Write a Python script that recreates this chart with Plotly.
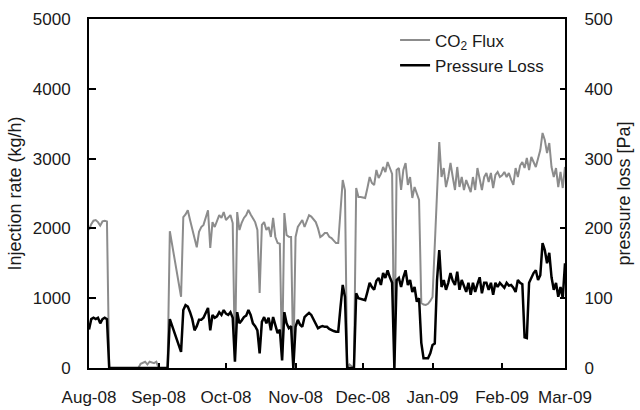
import plotly.graph_objects as go

# ---- data ----
flux_dates = [
    "2008-08-01", "2008-08-02", "2008-08-03", "2008-08-04", "2008-08-05", "2008-08-06",
    "2008-08-07", "2008-08-08", "2008-08-09", "2008-08-10", "2008-08-23", "2008-08-24",
    "2008-08-26", "2008-08-27", "2008-08-28", "2008-08-30", "2008-08-31", "2008-09-01",
    "2008-09-05", "2008-09-06", "2008-09-11", "2008-09-12", "2008-09-13", "2008-09-14",
    "2008-09-15", "2008-09-16", "2008-09-18", "2008-09-19", "2008-09-20", "2008-09-21",
    "2008-09-22", "2008-09-23", "2008-09-24", "2008-09-25", "2008-09-26", "2008-09-27",
    "2008-09-28", "2008-09-29", "2008-09-30", "2008-10-01", "2008-10-02", "2008-10-03",
    "2008-10-04", "2008-10-05", "2008-10-06", "2008-10-07", "2008-10-08", "2008-10-09",
    "2008-10-10", "2008-10-11", "2008-10-12", "2008-10-13", "2008-10-14", "2008-10-15",
    "2008-10-16", "2008-10-17", "2008-10-18", "2008-10-19", "2008-10-20", "2008-10-21",
    "2008-10-22", "2008-10-23", "2008-10-24", "2008-10-25", "2008-10-26", "2008-10-27",
    "2008-10-28", "2008-10-29", "2008-10-30", "2008-10-31", "2008-11-01", "2008-11-02",
    "2008-11-03", "2008-11-04", "2008-11-05", "2008-11-06", "2008-11-07", "2008-11-08",
    "2008-11-09", "2008-11-10", "2008-11-11", "2008-11-12", "2008-11-13", "2008-11-14",
    "2008-11-15", "2008-11-16", "2008-11-17", "2008-11-18", "2008-11-19", "2008-11-20",
    "2008-11-21", "2008-11-22", "2008-11-23", "2008-11-24", "2008-11-25", "2008-11-26",
    "2008-11-27", "2008-11-28", "2008-11-29", "2008-11-30", "2008-12-01", "2008-12-02",
    "2008-12-03", "2008-12-04", "2008-12-05", "2008-12-06", "2008-12-07", "2008-12-08",
    "2008-12-09", "2008-12-10", "2008-12-11", "2008-12-12", "2008-12-13", "2008-12-14",
    "2008-12-15", "2008-12-16", "2008-12-17", "2008-12-18", "2008-12-19", "2008-12-20",
    "2008-12-21", "2008-12-22", "2008-12-23", "2008-12-24", "2008-12-25", "2008-12-26",
    "2008-12-27", "2008-12-28", "2008-12-29", "2008-12-30", "2008-12-31", "2009-01-01",
    "2009-01-04", "2009-01-05", "2009-01-06", "2009-01-07", "2009-01-08", "2009-01-09",
    "2009-01-10", "2009-01-11", "2009-01-12", "2009-01-13", "2009-01-14", "2009-01-15",
    "2009-01-16", "2009-01-17", "2009-01-18", "2009-01-19", "2009-01-20", "2009-01-21",
    "2009-01-22", "2009-01-23", "2009-01-24", "2009-01-25", "2009-01-26", "2009-01-27",
    "2009-01-28", "2009-01-29", "2009-01-30", "2009-01-31", "2009-02-01", "2009-02-02",
    "2009-02-03", "2009-02-04", "2009-02-05", "2009-02-06", "2009-02-07", "2009-02-08",
    "2009-02-09", "2009-02-10", "2009-02-11", "2009-02-12", "2009-02-13", "2009-02-14",
    "2009-02-15", "2009-02-16", "2009-02-17", "2009-02-18", "2009-02-19", "2009-02-20",
    "2009-02-21", "2009-02-22", "2009-02-23", "2009-02-24", "2009-02-25", "2009-02-26",
    "2009-02-27", "2009-02-28", "2009-03-01",
]
flux_values = [
    1980, 2060, 2110, 2120, 2090, 2040,
    2100, 2110, 2100, 0, 0, 60,
    90, 50, 90, 70, 90, 0,
    0, 1960, 1020, 2160, 2200, 2260,
    2120, 1980, 1730, 1950, 2020, 2050,
    2150, 2260, 1720, 2090, 2020, 2120,
    2190, 2150, 2235, 2120, 2150, 2190,
    2077, 110, 2235, 1977, 2080, 2150,
    2190, 2264, 2200, 2150, 2090, 1977,
    1074, 2050, 2090, 1977, 2020, 1877,
    2150, 1877, 1790, 1780, 115, 2220,
    1905, 1880, 1877, 40, 1877, 2020,
    2080, 2120, 2020, 2100, 2190, 2170,
    2120, 2090, 2000, 1877, 1900, 1934,
    1934, 1880, 1862, 1830, 1790, 1790,
    2220, 2693, 2550, 0, 50, 20,
    0, 2580, 2450, 2450, 2440, 2436,
    2579, 2736, 2650, 2622, 2837, 2722,
    2780, 2880, 2808, 2951, 2865, 2780,
    0, 2837, 2865, 2550, 2837, 2937,
    2622, 2736, 2436, 2593, 2500, 2407,
    931, 910, 903, 920, 960, 1017,
    3238, 2736, 2865, 2593, 2736, 2937,
    2736, 2550, 2880, 2593, 2736, 2550,
    2693, 2600, 2521, 2736, 2550, 2865,
    2700, 2550, 2736, 2794, 2665, 2794,
    2579, 2765, 2808, 2736, 2760, 2808,
    2736, 2794, 2700, 2622, 2865, 2736,
    2900, 2951, 2865, 3009, 2837, 3023,
    2951, 2880, 3000, 3123, 3367, 3266,
    3080, 3223, 2880, 2736, 2865, 2593,
    2808, 2579, 2880,
]

loss_dates = [
    "2008-08-01", "2008-08-02", "2008-08-03", "2008-08-04", "2008-08-05", "2008-08-06",
    "2008-08-07", "2008-08-08", "2008-08-09", "2008-08-10", "2008-09-05", "2008-09-06",
    "2008-09-11", "2008-09-12", "2008-09-13", "2008-09-14", "2008-09-15", "2008-09-16",
    "2008-09-17", "2008-09-18", "2008-09-19", "2008-09-20", "2008-09-21", "2008-09-22",
    "2008-09-23", "2008-09-24", "2008-09-25", "2008-09-26", "2008-09-27", "2008-09-28",
    "2008-09-29", "2008-09-30", "2008-10-01", "2008-10-02", "2008-10-03", "2008-10-04",
    "2008-10-05", "2008-10-06", "2008-10-07", "2008-10-08", "2008-10-09", "2008-10-10",
    "2008-10-11", "2008-10-12", "2008-10-13", "2008-10-14", "2008-10-15", "2008-10-16",
    "2008-10-17", "2008-10-18", "2008-10-19", "2008-10-20", "2008-10-21", "2008-10-22",
    "2008-10-23", "2008-10-24", "2008-10-25", "2008-10-26", "2008-10-27", "2008-10-28",
    "2008-10-29", "2008-10-30", "2008-10-31", "2008-11-01", "2008-11-02", "2008-11-03",
    "2008-11-04", "2008-11-05", "2008-11-06", "2008-11-07", "2008-11-08", "2008-11-09",
    "2008-11-10", "2008-11-11", "2008-11-12", "2008-11-13", "2008-11-14", "2008-11-15",
    "2008-11-16", "2008-11-17", "2008-11-18", "2008-11-19", "2008-11-20", "2008-11-21",
    "2008-11-22", "2008-11-23", "2008-11-24", "2008-11-27", "2008-11-28", "2008-11-29",
    "2008-11-30", "2008-12-01", "2008-12-02", "2008-12-03", "2008-12-04", "2008-12-05",
    "2008-12-06", "2008-12-07", "2008-12-08", "2008-12-09", "2008-12-10", "2008-12-11",
    "2008-12-12", "2008-12-13", "2008-12-14", "2008-12-15", "2008-12-16", "2008-12-17",
    "2008-12-18", "2008-12-19", "2008-12-20", "2008-12-21", "2008-12-22", "2008-12-23",
    "2008-12-24", "2008-12-25", "2008-12-26", "2008-12-27", "2008-12-28", "2008-12-29",
    "2008-12-30", "2008-12-31", "2009-01-01", "2009-01-02", "2009-01-03", "2009-01-04",
    "2009-01-05", "2009-01-06", "2009-01-07", "2009-01-08", "2009-01-09", "2009-01-10",
    "2009-01-11", "2009-01-12", "2009-01-13", "2009-01-14", "2009-01-15", "2009-01-16",
    "2009-01-17", "2009-01-18", "2009-01-19", "2009-01-20", "2009-01-21", "2009-01-22",
    "2009-01-23", "2009-01-24", "2009-01-25", "2009-01-26", "2009-01-27", "2009-01-28",
    "2009-01-29", "2009-01-30", "2009-01-31", "2009-02-01", "2009-02-02", "2009-02-03",
    "2009-02-04", "2009-02-05", "2009-02-06", "2009-02-07", "2009-02-08", "2009-02-09",
    "2009-02-10", "2009-02-11", "2009-02-12", "2009-02-13", "2009-02-14", "2009-02-15",
    "2009-02-16", "2009-02-17", "2009-02-18", "2009-02-19", "2009-02-20", "2009-02-21",
    "2009-02-22", "2009-02-23", "2009-02-24", "2009-02-25", "2009-02-26", "2009-02-27",
    "2009-02-28", "2009-03-01",
]
loss_values = [
    55, 70, 72, 70, 72, 64,
    70, 72, 70, 0, 0, 70,
    23, 83, 90, 88, 80, 70,
    54, 60, 69, 69, 72, 80,
    86, 54, 76, 72, 74, 80,
    76, 83, 78, 76, 80, 72,
    9, 80, 64, 68, 73, 75,
    83, 76, 64, 60, 54, 21,
    66, 73, 64, 72, 54, 73,
    60, 50, 55, 11, 80, 64,
    57, 60, 0, 59, 69, 62,
    59, 73, 76, 79, 76, 69,
    64, 57, 59, 60, 59, 59,
    56, 54, 53, 52, 52, 87,
    119, 102, 0, 0, 107, 100,
    99, 98, 97, 109, 122, 116,
    112, 125, 129, 119, 136, 129,
    140, 130, 122, 0, 126, 129,
    116, 130, 140, 119, 126, 109,
    116, 95, 100, 36, 14, 14,
    14, 21, 33, 35, 126, 169,
    116, 126, 112, 122, 136, 125,
    119, 138, 112, 126, 118, 109,
    122, 105, 122, 109, 120, 130,
    107, 122, 122, 112, 122, 105,
    122, 116, 122, 118, 115, 122,
    118, 119, 115, 109, 126, 122,
    120, 44, 43, 122, 130, 136,
    140, 126, 133, 179, 169, 150,
    165, 130, 112, 122, 102, 116,
    100, 150,
]

series_names = ["CO<sub>2</sub> Flux", "Pressure Loss"]
x_range = ["2008-08-01", "2009-03-01"]
left_title = "Injection rate (kg/h)"
right_title = "pressure loss [Pa]"

FONT = "Liberation Sans, Arial, sans-serif"

fig = go.Figure()
fig.add_trace(go.Scatter(
    x=flux_dates, y=flux_values, name=series_names[0], mode="lines",
    line=dict(color="#8c8c8c", width=2), yaxis="y",
))
fig.add_trace(go.Scatter(
    x=loss_dates, y=loss_values, name=series_names[1], mode="lines",
    line=dict(color="#000000", width=2.5), yaxis="y2",
))

fig.update_layout(
    width=640, height=410,
    margin=dict(l=89, r=75, t=19, b=42),
    paper_bgcolor="white", plot_bgcolor="white",
    font=dict(family=FONT, size=17, color="#1a1a1a"),
    showlegend=True,
    legend=dict(
        x=0.643, y=0.99, xanchor="left", yanchor="top",
        bgcolor="rgba(0,0,0,0)", font=dict(size=17),
        itemwidth=30, tracegroupgap=0,
    ),
    xaxis=dict(
        type="date", range=x_range, tick0="2008-08-01", dtick="M1",
        tickformat="%b-%y", ticks="inside", ticklen=5, tickwidth=1.5,
        tickcolor="black", showline=True, linecolor="black", linewidth=2,
        mirror=True, showgrid=False, zeroline=False, ticklabelstandoff=13,
        automargin=False,
    ),
    yaxis=dict(
        range=[0, 5000], dtick=1000, ticks="inside", ticklen=7, tickwidth=1.5,
        tickcolor="black", showline=True, linecolor="black", linewidth=2,
        showgrid=False, zeroline=False, ticklabelstandoff=13, automargin=False,
        title=dict(text=left_title, font=dict(size=18), standoff=6),
    ),
    yaxis2=dict(
        range=[0, 500], dtick=100, overlaying="y", side="right",
        ticks="inside", ticklen=5, tickwidth=1.5, tickcolor="black",
        showline=True, linecolor="black", linewidth=2, automargin=False,
        showgrid=False, zeroline=False, ticklabelstandoff=14,
        title=dict(text=right_title, font=dict(size=18), standoff=6),
    ),
)

fig.write_html("out.html")
